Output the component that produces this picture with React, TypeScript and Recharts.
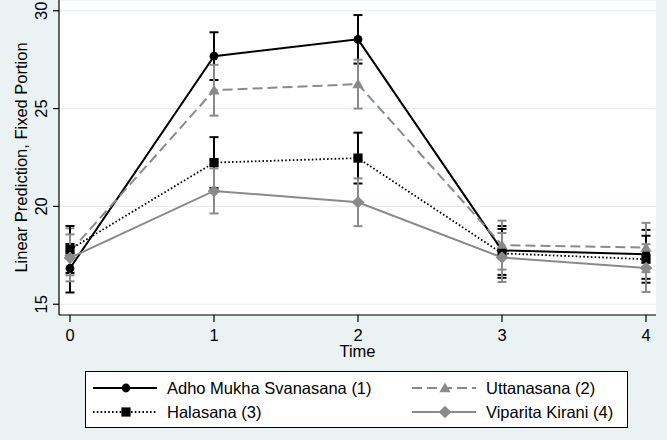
import React from 'react'
import {
  LineChart,
  Line,
  ErrorBar,
  XAxis,
  YAxis,
  CartesianGrid,
  Legend,
  Label,
} from 'recharts'

const TIMES = [0, 1, 2, 3, 4]
const Y_TICKS = [15, 20, 25, 30]

const ADHO = [16.84, 27.68, 28.54, 17.75, 17.55]
const ADHO_CI = [1.24, 1.22, 1.24, 1.25, 1.25]
const UTTANA = [17.68, 25.94, 26.25, 18.02, 17.9]
const UTTANA_CI = [1.2, 1.3, 1.25, 1.25, 1.26]
const HALA = [17.8, 22.24, 22.47, 17.6, 17.3]
const HALA_CI = [1.2, 1.3, 1.3, 1.25, 1.2]
const VIPA = [17.37, 20.79, 20.21, 17.39, 16.85]
const VIPA_CI = [1.2, 1.15, 1.22, 1.25, 1.22]

const BG = '#eaf2f3'
const GRAY = '#8a8a8a'
const FONT = '"Liberation Sans", Arial, sans-serif'
const FS = 16.5

type Shape = 'circle' | 'triangle' | 'square' | 'diamond'

const SERIES: {
  key: string
  ci: string
  name: string
  color: string
  dash?: string
  width: number
  shape: Shape
}[] = [
  { key: 'adho', ci: 'adhoCi', name: 'Adho Mukha Svanasana (1)', color: '#000', width: 2, shape: 'circle' },
  { key: 'uttana', ci: 'uttanaCi', name: 'Uttanasana (2)', color: GRAY, dash: '10 5', width: 2, shape: 'triangle' },
  { key: 'hala', ci: 'halaCi', name: 'Halasana (3)', color: '#000', dash: '1.6 2.2', width: 1.8, shape: 'square' },
  { key: 'vipa', ci: 'vipaCi', name: 'Viparita Kirani (4)', color: GRAY, width: 2, shape: 'diamond' },
]

const rows = TIMES.map((t, i) => ({
  t,
  adho: ADHO[i],
  adhoCi: ADHO_CI[i],
  uttana: UTTANA[i],
  uttanaCi: UTTANA_CI[i],
  hala: HALA[i],
  halaCi: HALA_CI[i],
  vipa: VIPA[i],
  vipaCi: VIPA_CI[i],
}))

function Marker({ cx, cy, shape, color }: { cx: number; cy: number; shape: Shape; color: string }) {
  if (shape === 'circle') return <circle cx={cx} cy={cy} r={4.4} fill={color} />
  if (shape === 'square') return <rect x={cx - 4.6} y={cy - 4.6} width={9.2} height={9.2} fill={color} />
  if (shape === 'triangle') {
    const s = 5.6
    return <polygon points={`${cx},${cy - s} ${cx + s},${cy + s * 0.75} ${cx - s},${cy + s * 0.75}`} fill={color} />
  }
  const d = 6.3
  return <polygon points={`${cx},${cy - d} ${cx + d},${cy} ${cx},${cy + d} ${cx - d},${cy}`} fill={color} />
}

const YTick = (props: any) => {
  const { x, y, payload } = props
  const bx = x - 6
  return (
    <text
      x={bx}
      y={y}
      transform={`rotate(-90 ${bx} ${y})`}
      textAnchor="middle"
      fontSize={FS}
      fontFamily={FONT}
      fill="#000"
    >
      {payload.value}
    </text>
  )
}

const LEG_COLS = [8, 327]
const LEG_ROWS = [17, 41]

const LegendBox = () => (
  <svg width={543} height={57} style={{ display: 'block' }}>
    <rect x={0.5} y={0.5} width={542} height={56} fill="#fff" stroke="#000" strokeWidth={1} />
    {SERIES.map((s, i) => {
      const x0 = LEG_COLS[i % 2]
      const y0 = LEG_ROWS[Math.floor(i / 2)]
      return (
        <g key={s.key}>
          <line
            x1={x0}
            y1={y0}
            x2={x0 + 64}
            y2={y0}
            stroke={s.color}
            strokeWidth={s.width}
            strokeDasharray={s.dash}
          />
          <Marker cx={x0 + 33} cy={y0} shape={s.shape} color={s.color} />
          <text x={x0 + 74} y={y0 + 6} fontSize={FS} fontFamily={FONT} fill="#000">
            {s.name}
          </text>
        </g>
      )
    })}
  </svg>
)

export default function App() {
  return (
    <div style={{ width: 667, height: 440, background: BG }}>
      <style>{'body{margin:0}'}</style>
      <LineChart
        width={667}
        height={440}
        data={rows}
        margin={{ top: 0, right: 11, bottom: 80, left: 0 }}
        style={{ background: BG }}
      >
        <CartesianGrid vertical={false} stroke="#e3eced" strokeWidth={1} fill="#fff" />
        <XAxis
          type="number"
          dataKey="t"
          domain={[0, 4]}
          ticks={TIMES}
          padding={{ left: 11, right: 10 }}
          height={45}
          tickSize={7}
          tickMargin={7}
          axisLine={{ stroke: '#000', strokeWidth: 1.2 }}
          tickLine={{ stroke: '#000', strokeWidth: 1.2 }}
          tick={{ fill: '#000', fontSize: FS, fontFamily: FONT }}
        >
          <Label
            value="Time"
            position="insideBottom"
            offset={3}
            style={{ fill: '#000', fontSize: FS, fontFamily: FONT }}
          />
        </XAxis>
        <YAxis
          type="number"
          domain={[14.45, 30.55]}
          ticks={Y_TICKS}
          allowDataOverflow
          width={59}
          tickSize={6}
          tickMargin={0}
          axisLine={{ stroke: '#000', strokeWidth: 1.2 }}
          tickLine={{ stroke: '#000', strokeWidth: 1.2 }}
          tick={YTick}
        >
          <Label
            value="Linear Prediction, Fixed Portion"
            angle={-90}
            position="insideLeft"
            offset={21}
            style={{ fill: '#000', fontSize: FS, fontFamily: FONT, textAnchor: 'middle' }}
          />
        </YAxis>
        {SERIES.map((s) => (
          <Line
            key={s.key}
            dataKey={s.key}
            name={s.name}
            stroke={s.color}
            strokeWidth={s.width}
            strokeDasharray={s.dash}
            type="linear"
            isAnimationActive={false}
            activeDot={false}
            dot={(p: any) => (
              <Marker key={`${s.key}-${p.index}`} cx={p.cx} cy={p.cy} shape={s.shape} color={s.color} />
            )}
          >
            <ErrorBar
              dataKey={s.ci}
              direction="y"
              width={4.5}
              stroke={s.color}
              strokeWidth={2}
              isAnimationActive={false}
            />
          </Line>
        ))}
        <Legend
          layout="horizontal"
          verticalAlign="middle"
          align="center"
          content={() => <LegendBox />}
          wrapperStyle={{ left: 85, top: 371, width: 543, height: 57 }}
        />
      </LineChart>
    </div>
  )
}
